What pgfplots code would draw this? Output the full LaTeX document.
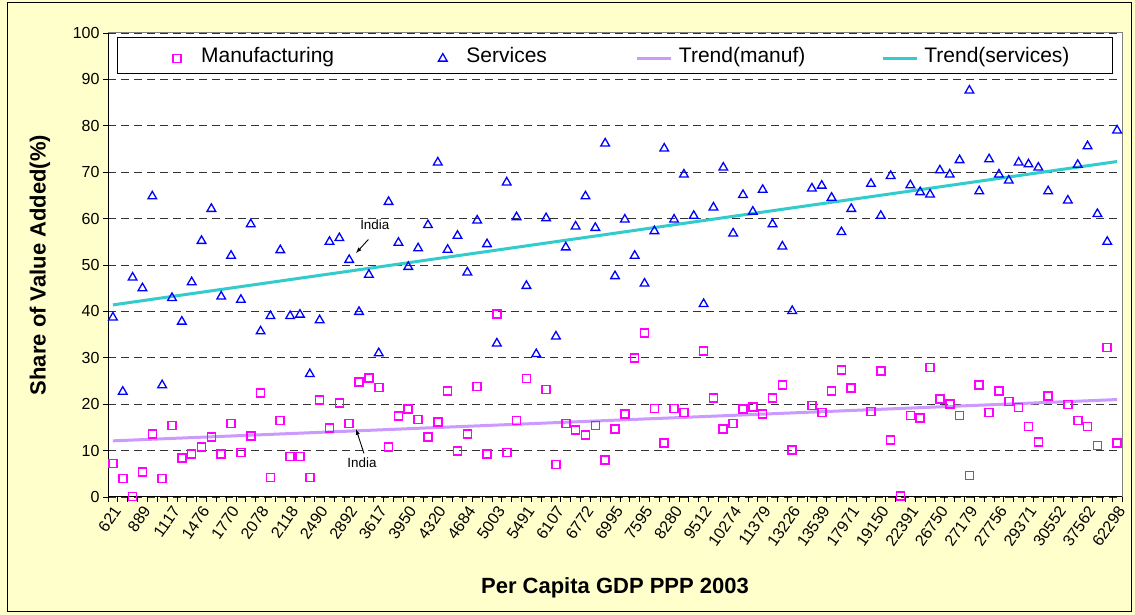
\documentclass[border=0pt]{standalone}
\usepackage{fontspec}
\setmainfont{Liberation Sans}
\usepackage{pgfplots}
\usepackage{pgfplotstable}
\pgfplotsset{compat=1.18}
\definecolor{bgyellow}{HTML}{FFFFCC}
\definecolor{manufc}{HTML}{FF00FF}
\definecolor{servc}{HTML}{0000FF}
\definecolor{tmanuf}{HTML}{CC99FF}
\definecolor{tserv}{HTML}{33CCCC}
\pgfdeclareplotmark{opensq}{%
  \pgfpathmoveto{\pgfqpoint{-\pgfplotmarksize}{-\pgfplotmarksize}}%
  \pgfpathlineto{\pgfqpoint{\pgfplotmarksize}{-\pgfplotmarksize}}%
  \pgfpathlineto{\pgfqpoint{\pgfplotmarksize}{\pgfplotmarksize}}%
  \pgfpathlineto{\pgfqpoint{-\pgfplotmarksize}{\pgfplotmarksize}}%
  \pgfpathclose
  \pgfusepathqstroke}
\pgfplotsset{
  legmark/.style={legend image code/.code={\path (0pt,0pt) (34pt,0pt); \draw[##1] plot coordinates {(17pt,0.35em)};}},
  legline/.style={legend image code/.code={\draw[##1] (0pt,0.35em) -- (34pt,0.35em);}},
}

\pgfplotstableread{
x y
0 7.2
1 4.0
2 0.1
3 5.4
4 13.6
5 4.0
6 15.4
7 8.4
8 9.3
9 10.8
10 12.9
11 9.3
12 15.8
13 9.6
14 13.2
15 22.4
16 4.2
17 16.5
18 8.7
19 8.7
20 4.2
21 20.9
22 14.9
23 20.3
24 15.8
25 24.8
26 25.6
27 23.6
28 10.8
29 17.5
30 19.0
31 16.7
32 12.9
33 16.1
34 22.9
35 9.9
36 13.6
37 23.8
38 9.3
39 39.4
40 9.6
41 16.5
42 25.5
44 23.2
45 7.0
46 15.8
47 14.4
48 13.4
49 15.4
50 8.0
51 14.6
52 17.9
53 30.0
54 35.4
55 19.1
56 11.6
57 19.1
58 18.2
60 31.5
61 21.4
62 14.6
63 15.8
64 19.0
65 19.4
66 17.9
67 21.4
68 24.1
69 10.1
71 19.7
72 18.2
73 22.9
74 27.4
75 23.5
77 18.4
78 27.1
79 12.3
80 0.2
81 17.6
82 17.0
83 27.9
84 21.1
85 20.0
86 17.6
87 4.6
88 24.1
89 18.2
90 22.9
91 20.6
92 19.3
93 15.2
94 11.9
95 21.8
97 19.9
98 16.5
99 15.2
100 11.1
101 32.2
102 11.6
}\manuftable

\pgfplotstableread{
x y
0 38.7
1 22.7
2 47.3
3 45.0
4 64.8
5 24.1
6 42.9
7 37.8
8 46.3
9 55.2
10 62.1
11 43.2
12 52.0
13 42.5
14 58.8
15 35.7
16 39.0
17 53.2
18 39.0
19 39.3
20 26.5
21 38.1
22 55.0
23 55.8
24 51.1
25 39.9
26 47.9
27 31.0
28 63.6
29 54.8
30 49.6
31 53.6
32 58.6
33 72.1
34 53.3
35 56.3
36 48.4
37 59.6
38 54.5
39 33.1
40 67.8
41 60.3
42 45.5
43 30.8
44 60.1
45 34.6
46 53.8
47 58.3
48 64.8
49 58.0
50 76.2
51 47.6
52 59.8
53 52.0
54 46.0
55 57.3
56 75.1
57 59.8
58 69.5
59 60.6
60 41.6
61 62.4
62 71.0
63 56.8
64 65.1
65 61.5
66 66.2
67 58.8
68 54.0
69 40.1
71 66.5
72 67.1
73 64.5
74 57.1
75 62.1
77 67.5
78 60.6
79 69.2
81 67.2
82 65.7
83 65.2
84 70.4
85 69.5
86 72.6
87 87.6
88 65.9
89 72.8
90 69.5
91 68.2
92 72.1
93 71.7
94 71.0
95 65.9
97 63.9
98 71.6
99 75.6
100 61.0
101 55.0
102 79.0
}\servtable

\begin{document}
\begin{tikzpicture}
\useasboundingbox (0pt,0pt) rectangle (1135pt,615pt);
\fill[bgyellow] (0pt,0pt) rectangle (1135pt,615pt);
\draw[black, line width=1pt] (7.5pt,3pt) rectangle (1131pt,612pt);
\begin{axis}[
  at={(108pt,118pt)}, anchor=south west,
  scale only axis, width=1014pt, height=464pt,
  xmin=-0.5, xmax=102.5, ymin=0, ymax=100,
  clip=false,
  axis lines*=left,
  axis line style={black, line width=1pt},
  axis background/.style={fill=white},
  tick align=outside,
  major tick length=5pt,
  tick style={black, line width=0.8pt},
  ytick={0,10,...,100},
  xtick={0,3,...,102},
  xticklabels={621,889,1117,1476,1770,2078,2118,2490,2892,3617,3950,4320,4684,5003,5491,6107,6772,6995,7595,8280,9512,10274,11379,13226,13539,17971,19150,22391,26750,27179,27756,29371,30552,37562,62298},
  x tick style={draw=none},
  xticklabel style={rotate=55, anchor=east, yshift=-7pt, xshift=1pt},
  ymajorgrids,
  grid style={black!80, line width=0.9pt, dash pattern=on 8pt off 5pt},
  /pgf/number format/assume math mode=true,
  tick label style={font=\fontsize{16}{19}\selectfont},
  xlabel={\textbf{Per Capita GDP PPP 2003}},
  ylabel={\textbf{Share of Value Added(\%)}},
  label style={font=\fontsize{22}{26}\selectfont},
  x label style={at={(axis description cs:0.5,-0.196)}, anchor=center, rotate=0},
  y label style={at={(axis description cs:-0.067,0.5)}, anchor=center},
  legend columns=4,
  legend style={at={(0.4995,0.9914)}, anchor=north, draw=black, fill=white,
     line width=0.8pt, font=\fontsize{21}{25}\selectfont,
     inner xsep=42.5pt, inner ysep=9.5pt,
     nodes={inner xsep=0pt, inner ysep=0pt, anchor=base west},
     /tikz/every odd column/.style={column sep=6pt},
     /tikz/column 2/.style={column sep=91pt},
     /tikz/column 4/.style={column sep=89pt},
     /tikz/column 6/.style={column sep=76pt}},
]
\addplot[color=manufc, only marks, mark=opensq, mark size=4pt, line width=1.6pt, legmark]
  table[x=x, y=y] {\manuftable};
\addlegendentry{Manufacturing}
\addplot[color=servc, only marks, mark=triangle, mark size=5pt, line width=1.3pt, legmark]
  table[x=x, y=y] {\servtable};
\addlegendentry{Services}
\addplot[tmanuf, line width=3pt, no marks, legline]
  coordinates {(0,12.1) (102,21.0)};
\addlegendentry{Trend(manuf)}
\addplot[tserv, line width=3pt, no marks, legline]
  coordinates {(0,41.4) (102,72.3)};
\addlegendentry{Trend(services)}
\draw[gray, line width=1pt] (rel axis cs:0,1) -- (rel axis cs:1,1) -- (rel axis cs:1,0);
\foreach \k in {0,...,103} {\edef\temp{\noexpand\draw[black, line width=0.8pt] (axis cs:\k-0.5,0) -- ++(0pt,-5pt);}\temp}
\node[font=\fontsize{13.4}{16}\selectfont] at (axis cs:26.6,58.6) {India};
\draw[-latex, line width=0.9pt] (axis cs:25.95,55.5) -- (axis cs:24.7,52.6);
\node[font=\fontsize{13.4}{16}\selectfont] at (axis cs:25.3,7.3) {India};
\draw[-latex, line width=0.9pt] (axis cs:25.5,9.4) -- (axis cs:24.7,14.6);
\end{axis}
\end{tikzpicture}
\end{document}
